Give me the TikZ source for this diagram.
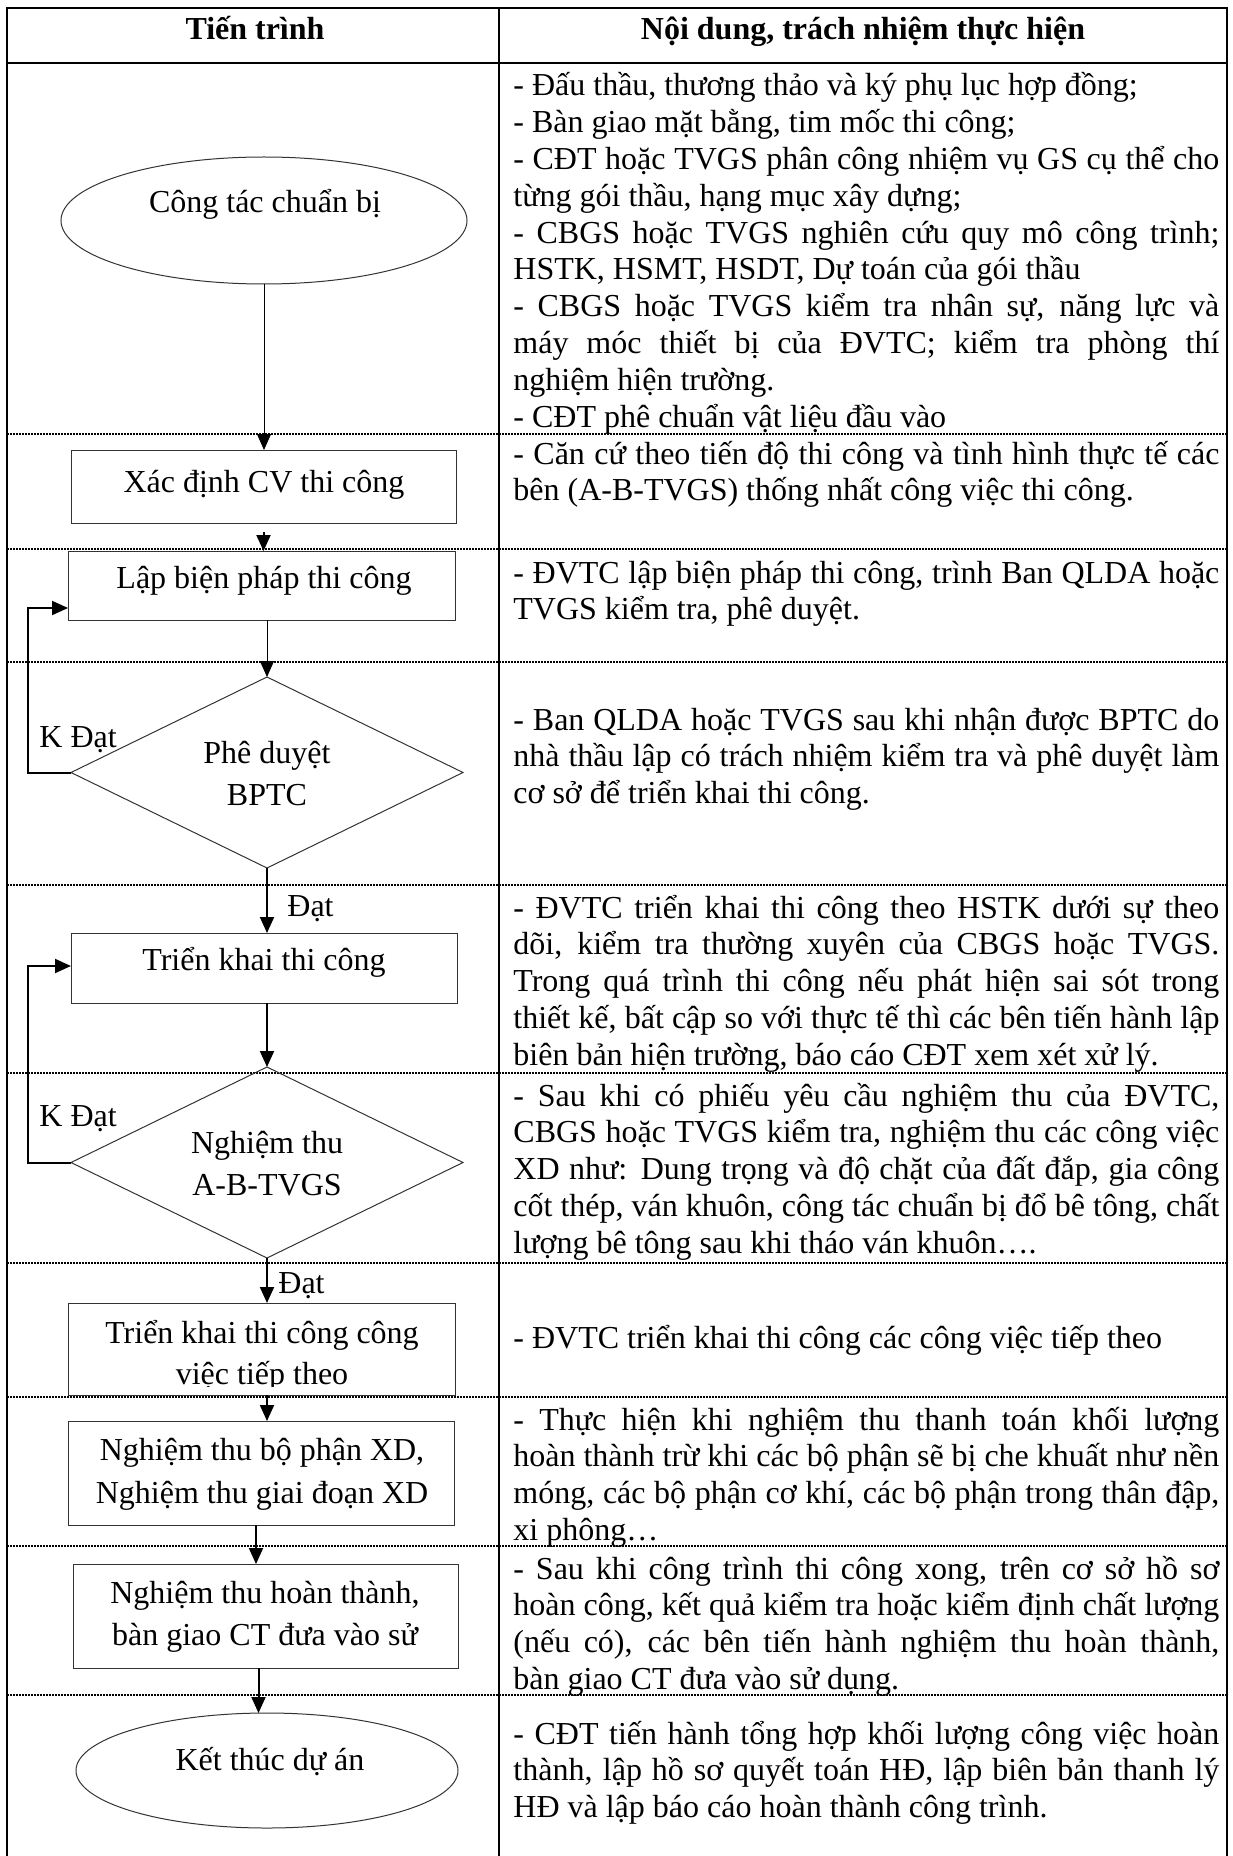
\documentclass[tikz,border=0pt]{standalone}
\usepackage{fontspec}
\setmainfont{Liberation Serif}
\usetikzlibrary{arrows.meta,shapes.geometric,calc}
\hbadness=10000 \hfuzz=3pt
\newcommand\jline[1]{\hbox to\hsize{#1}}
\newcommand\lline[1]{\hbox{#1}}
\newcommand\rowtext[1]{\vtop{\hsize=353pt\baselineskip=18.4pt\lineskiplimit=-\maxdimen\lineskip=0pt #1}}
\begin{document}
\begin{tikzpicture}[x=0.5pt,y=-0.5pt,
  shp/.style={draw=black!80, line width=0.5pt, inner sep=0pt, outer sep=0pt},
  boxs/.style={shp, rectangle},
  ells/.style={shp, ellipse},
  dias/.style={shp, diamond},
  txt/.style={inner sep=0pt, anchor=base, font=\fontsize{16pt}{18.4pt}\selectfont},
  lbl/.style={txt, anchor=base west},
  hdr/.style={inner sep=0pt, anchor=base, font=\fontsize{16pt}{18.4pt}\selectfont\bfseries},
  rowt/.style={inner sep=0pt, anchor=base west, font=\fontsize{16pt}{18.4pt}\selectfont},
  arrthin/.style={line width=0.5pt, -{Triangle[width=7pt,length=8pt]}},
  arrthick/.style={line width=1pt, -{Triangle[width=7pt,length=8pt]}},
  sepline/.style={line width=0.75pt, dash pattern=on 0.75pt off 0.75pt},
  framel/.style={line width=1pt}]
\useasboundingbox (0,0) rectangle (1232,1856);

% frame
\draw[framel] (7,1856) -- (7,8) -- (1227,8) -- (1227,1856);
\draw[framel] (499,8) -- (499,1856);
\draw[framel] (7,63) -- (1227,63);
\foreach \yy in {434,549,662,885,1073,1263,1397,1546,1695}
  \draw[sepline] (7,\yy) -- (1227,\yy);

% headers
\node[hdr] (h1) at (255,40) {Tiến trình};
\node[hdr] (h2) at (863,40) {Nội dung, trách nhiệm thực hiện};

% shapes
\node[ells, minimum width=203pt, minimum height=63.5pt] (e1) at (264,220.5) {};
\node[boxs, minimum width=192.5pt, minimum height=36.5pt] (xd) at (263.5,486.5) {};
\node[boxs, minimum width=193.5pt, minimum height=34.5pt] (lap) at (261.5,585.5) {};
\node[dias, minimum width=196pt, minimum height=95.5pt] (d1) at (267,772.5) {};
\node[boxs, minimum width=193pt, minimum height=35pt] (tk) at (264,968) {};
\node[dias, minimum width=196pt, minimum height=95.5pt] (d2) at (267,1162.5) {};
\node[boxs, minimum width=193.5pt, minimum height=46pt] (tt) at (261.5,1349) {};
\node[boxs, minimum width=193pt, minimum height=52pt] (bp) at (261,1473) {};
\node[boxs, minimum width=192.5pt, minimum height=52pt] (ht) at (265.5,1616) {};
\node[ells, minimum width=191pt, minimum height=57.5pt] (e2) at (267,1770.5) {};

% shape texts
\node[txt] (t1) at (265,213) {Công tác chuẩn bị};
\node[txt] (t2) at (264,492) {Xác định CV thi công};
\node[txt] (t3) at (264,588) {Lập biện pháp thi công};
\node[txt] (t4a) at (267,763) {Phê duyệt};
\node[txt] (t4b) at (267,805) {BPTC};
\node[txt] (t5) at (264,970) {Triển khai thi công};
\node[txt] (t6a) at (267,1153) {Nghiệm thu};
\node[txt] (t6b) at (267,1195) {A-B-TVGS};
\node[txt] (t7a) at (262,1343) {Triển khai thi công công};
\begin{scope}
  \clip (60,1300) rectangle (460,1386);
  \node[txt] (t7b) at (262,1384) {việc tiếp theo};
\end{scope}
\node[txt] (t8a) at (262,1460) {Nghiệm thu bộ phận XD,};
\node[txt] (t8b) at (262,1503) {Nghiệm thu giai đoạn XD};
\node[txt] (t9a) at (265,1603) {Nghiệm thu hoàn thành,};
\node[txt] (t9b) at (265,1645) {bàn giao CT đưa vào sử};
\node[txt] (t10) at (270,1770) {Kết thúc dự án};

% labels
\node[lbl] (k1) at (39,747) {K Đạt};
\node[lbl] (k2) at (39,1126) {K Đạt};
\node[lbl] (ok1) at (287,916) {Đạt};
\node[lbl] (ok2) at (278,1293) {Đạt};

% connectors
\draw[arrthin] (e1.south) -- (e1.south |- xd.north);
\draw[arrthick, shorten <=4.5pt] (xd.south) -- (xd.south |- lap.north);
\draw[arrthin] (d1.north |- lap.south) -- (d1.north);
\coordinate (f1) at (28,608);
\draw[arrthick] (d1.west) -| (f1) -- (f1 -| lap.west);
\draw[arrthick] (d1.south) -- (d1.south |- tk.north);
\draw[arrthick] (d2.north |- tk.south) -- (d2.north);
\coordinate (f2) at (28,966);
\draw[arrthick] (d2.west) -| (f2) -- (f2 -| tk.west);
\draw[arrthick] (d2.south) -- (d2.south |- tt.north);
\draw[arrthick] (d2.south |- tt.south) -- (d2.south |- bp.north);
\coordinate (c10) at ($(bp.south)+(-5,0)$);
\draw[arrthick] (c10) -- (c10 |- ht.north);
\coordinate (c11) at ($(ht.south)+(-7,0)$);
\draw[arrthick] (c11) -- (c11 |- e2.north);

% right column
\node[rowt] (r1) at (513,96) {\rowtext{%
\lline{- Đấu thầu, thương thảo và ký phụ lục hợp đồng;}
\lline{- Bàn giao mặt bằng, tim mốc thi công;}
\jline{- CĐT hoặc TVGS phân công nhiệm vụ GS cụ thể cho}
\lline{từng gói thầu, hạng mục xây dựng;}
\jline{- CBGS hoặc TVGS nghiên cứu quy mô công trình;}
\lline{HSTK, HSMT, HSDT, Dự toán của gói thầu}
\jline{- CBGS hoặc TVGS kiểm tra nhân sự, năng lực và}
\jline{máy móc thiết bị của ĐVTC; kiểm tra phòng thí}
\lline{nghiệm hiện trường.}
\lline{- CĐT phê chuẩn vật liệu đầu vào}}};
\node[rowt] (r2) at (513,464) {\rowtext{%
\jline{- Căn cứ theo tiến độ thi công và tình hình thực tế các}
\lline{bên (A-B-TVGS) thống nhất công việc thi công.}}};
\node[rowt] (r3) at (513,583) {\rowtext{%
\jline{- ĐVTC lập biện pháp thi công, trình Ban QLDA hoặc}
\lline{TVGS kiểm tra, phê duyệt.}}};
\node[rowt] (r4) at (513,730) {\rowtext{%
\jline{- Ban QLDA hoặc TVGS sau khi nhận được BPTC do}
\jline{nhà thầu lập có trách nhiệm kiểm tra và phê duyệt làm}
\lline{cơ sở để triển khai thi công.}}};
\node[rowt] (r5) at (513,918) {\rowtext{%
\jline{- ĐVTC triển khai thi công theo HSTK dưới sự theo}
\jline{dõi, kiểm tra thường xuyên của CBGS hoặc TVGS.}
\jline{Trong quá trình thi công nếu phát hiện sai sót trong}
\jline{thiết kế, bất cập so với thực tế thì các bên tiến hành lập}
\lline{biên bản hiện trường, báo cáo CĐT xem xét xử lý.}}};
\node[rowt] (r6) at (513,1106) {\rowtext{%
\jline{- Sau khi có phiếu yêu cầu nghiệm thu của ĐVTC,}
\jline{CBGS hoặc TVGS kiểm tra, nghiệm thu các công việc}
\jline{XD như: Dung trọng và độ chặt của đất đắp, gia công}
\jline{cốt thép, ván khuôn, công tác chuẩn bị đổ bê tông, chất}
\lline{lượng bê tông sau khi tháo ván khuôn….}}};
\node[rowt] (r7) at (513,1348) {\rowtext{%
\lline{- ĐVTC triển khai thi công các công việc tiếp theo}}};
\node[rowt] (r8) at (513,1430) {\rowtext{%
\jline{- Thực hiện khi nghiệm thu thanh toán khối lượng}
\jline{hoàn thành trừ khi các bộ phận sẽ bị che khuất như nền}
\jline{móng, các bộ phận cơ khí, các bộ phận trong thân đập,}
\lline{xi phông…}}};
\node[rowt] (r9) at (513,1579) {\rowtext{%
\jline{- Sau khi công trình thi công xong, trên cơ sở hồ sơ}
\jline{hoàn công, kết quả kiểm tra hoặc kiểm định chất lượng}
\jline{(nếu có), các bên tiến hành nghiệm thu hoàn thành,}
\lline{bàn giao CT đưa vào sử dụng.}}};
\node[rowt] (r10) at (513,1744) {\rowtext{%
\jline{- CĐT tiến hành tổng hợp khối lượng công việc hoàn}
\jline{thành, lập hồ sơ quyết toán HĐ, lập biên bản thanh lý}
\lline{HĐ và lập báo cáo hoàn thành công trình.}}};
\end{tikzpicture}
\end{document}
